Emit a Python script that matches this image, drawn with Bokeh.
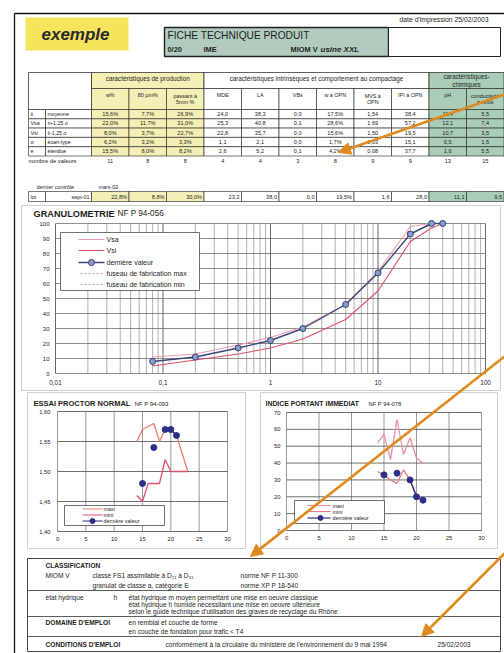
import math
from bokeh.plotting import figure
from bokeh.models import Range1d, LogScale, LinearScale, Arrow, NormalHead
from bokeh.core.properties import value
from bokeh.embed import file_html
from bokeh.resources import INLINE

FONT = "Liberation Sans"
INK = "#1e1e1e"
ORANGE = "#df8a1f"
YELLOW_CELL = "#f4efb6"
GREEN_CELL = "#a9cdb7"
HEAD_FILL = "#b2cbbf"
EXEMPLE_FILL = "#f6e55c"
GRID = "#6e6e6e"
NAN = float("nan")
PAGE_W, PAGE_H = 504, 653

# ---------------- data ----------------
print_date = "25/02/2003"
product = "0/20"
product_code = "IME"
material = "MIOM V"
plant = "XXL"

row_symbols = ["x̄", "Vsa", "Vsi", "σ", "e"]
row_labels = ["moyenne", "x̄+1,25 σ", "x̄-1,25 σ", "écart-type", "étendue"]

col_headers = ["w%", "80 µm%", "passant à\n5mm %", "MDE", "LA", "VBs",
               "w à OPN", "MVS à\nOPN", "IPI à OPN", "pH", "conductivité\nà refus"]
col_decimals = [1, 1, 1, 1, 1, 1, 1, 2, 1, 1, 1]
col_percent = [True, True, True, False, False, False, True, False, False, False, False]

w_pct = [15.6, 22.0, 8.0, 6.2, 15.5]
fines_80um = [7.7, 11.7, 3.7, 3.2, 8.0]
passing_5mm = [26.9, 31.0, 22.7, 3.3, 8.2]
mde = [24.0, 25.3, 22.8, 1.1, 2.6]
la = [38.3, 40.8, 35.7, 2.1, 5.2]
vbs = [0.0, 0.1, 0.0, 0.0, 0.1]
w_opn = [17.5, 28.6, 15.6, 1.7, 4.2]
mvs_opn = [1.54, 1.69, 1.50, 0.03, 0.08]
ipi_opn = [38.4, 57.2, 19.5, 15.1, 37.7]
ph = [11.4, 12.1, 10.7, 0.5, 1.6]
conductivity = [5.5, 7.4, 3.5, 1.5, 5.5]
table_columns = [w_pct, fines_80um, passing_5mm, mde, la, vbs, w_opn, mvs_opn,
                 ipi_opn, ph, conductivity]
count_values = [11, 8, 8, 4, 4, 3, 8, 9, 9, 13, 15]

last_check = "mars-02"
last_lot_date = "sept-01"
last_lot = [22.8, 8.8, 30.0, 23.2, 38.0, 0.0, 19.5, 1.6, 28.0, 11.1, 9.5]

# grading curve (sieve opening in mm, % passing)
sieve_mm = [0.08, 0.2, 0.5, 1, 2, 5, 10, 20, 31.5, 40]
passing_vsa = [11, 13, 19, 24, 31, 46, 68, 98, 100, 100]
passing_vsi = [5, 9, 13, 17, 23, 36, 55, 88, 97, 100]
passing_last = [8, 11, 17, 22, 30, 46, 67, 93, 100, 100]

# Proctor normal (water content %, dry density)
proctor_max_w = [14, 15, 17, 18, 19, 20, 21, 23]
proctor_max_d = [1.55, 1.57, 1.58, 1.55, 1.57, 1.57, 1.56, 1.50]
proctor_min_w = [14, 15, 16, 18, 19, 20, 23]
proctor_min_d = [1.46, 1.45, 1.48, 1.48, 1.52, 1.50, 1.50]
proctor_last_w = [15, 16, 17, 18, 19, 20, 21]
proctor_last_d = [1.48, NAN, 1.54, NAN, 1.57, 1.57, 1.56]

# immediate bearing index (water content %, IPI)
ipi_w = [14, 15, 16, 17, 18, 19, 20, 21]
ipi_max = [52, 57, 42, 66, 45, 55, 43, 40]
ipi_min = [35, 33, 30, 28, 36, 30, 21, 18]
ipi_last_w = [15, 16, 17, 18, 19, 20, 21]
ipi_last = [33, NAN, 34, NAN, 30, 20, 18]

grading_x_ticks = [0.01, 0.1, 1, 10, 100]
grading_x_labels = ["0,01", "0,1", "1", "10", "100"]
grading_y_ticks = list(range(0, 101, 10))
water_ticks = [0, 5, 10, 15, 20, 25, 30]
density_ticks = [1.40, 1.45, 1.50, 1.55, 1.60]
ipi_ticks = [0, 10, 20, 30, 40, 50, 60, 70]

# ---------------- page canvas (pixel units, y downwards) ----------------
p = figure(width=PAGE_W, height=PAGE_H, x_range=Range1d(0, PAGE_W),
           y_range=Range1d(PAGE_H, 0), x_axis_location=None, y_axis_location=None,
           toolbar_location=None, output_backend="svg", min_border=0,
           outline_line_color=None)
p.grid.visible = False
p.background_fill_color = "white"
p.border_fill_color = "white"


def x_lin(v0, px0, v1, px1):
    """Range so that value v0 lands on page column px0 and v1 on px1."""
    k = (v1 - v0) / (px1 - px0)
    return Range1d(v0 - px0 * k, v0 + (PAGE_W - px0) * k)


def x_log(v0, px0, v1, px1):
    l0, l1 = math.log10(v0), math.log10(v1)
    k = (l1 - l0) / (px1 - px0)
    return Range1d(10 ** (l0 - px0 * k), 10 ** (l0 + (PAGE_W - px0) * k))


def y_lin(v0, py0, v1, py1):
    """Range so that value v0 lands on page row py0 and v1 on py1 (rows counted downwards)."""
    k = (v1 - v0) / (py1 - py0)
    return Range1d(v0 + (PAGE_H - py0) * k, v0 - py0 * k)


# chart areas on the page
p.extra_x_ranges = {
    "grain": x_log(0.01, 55, 100, 485),
    "proctor": x_lin(0, 57, 30, 227),
    "ipi": x_lin(0, 286, 30, 481),
}
p.extra_x_scales = {"grain": LogScale(), "proctor": LinearScale(), "ipi": LinearScale()}
p.extra_y_ranges = {
    "grain": y_lin(0, 373, 100, 223),
    "proctor": y_lin(1.40, 531, 1.60, 411),
    "ipi": y_lin(0, 530, 70, 412),
}
GR = dict(x_range_name="grain", y_range_name="grain")
PR = dict(x_range_name="proctor", y_range_name="proctor")
IP = dict(x_range_name="ipi", y_range_name="ipi")


def put_text(xs, ys, texts, size, align="left", baseline="middle", style="normal",
             color=INK, **kw):
    p.text(x=xs, y=ys, text=texts, text_font=value(FONT), text_font_size=f"{size}px",
           text_align=align, text_baseline=baseline, text_font_style=style,
           text_color=color, **kw)


def fmt(v, d, pct=False):
    s = f"{v:.{d}f}".replace(".", ",")
    return s + ("%" if pct else "")


# page frame
p.segment(x0=[14, 14], y0=[13, 13], x1=[504, 14], y1=[13, 653], line_color="#111111",
          line_width=1.3)

# ---------------- header ----------------
put_text([488], [19], [f"date d'impression {print_date}"], 6.8, align="right")
p.quad(left=[25], right=[128], top=[17], bottom=[50], fill_color=EXEMPLE_FILL, line_color=None)
put_text([41], [34], ["exemple"], 17, style="bold italic", color="#2a2a2a")

p.quad(left=[164], right=[388], top=[27], bottom=[56], fill_color=HEAD_FILL,
       line_color="#222222", line_width=1.4)
p.quad(left=[388], right=[500], top=[27], bottom=[56], fill_color="white",
       line_color="#222222", line_width=1.0)
put_text([167], [35], ["FICHE TECHNIQUE PRODUIT"], 10.2)
put_text([167, 203, 290], [49, 49, 49], [product, product_code, material], 7.4, style="bold")
put_text([320], [49], [f"usine {plant}"], 8, style="bold italic")

# ---------------- data table ----------------
ncol = len(col_headers)
xe = [91 + 37.5 * i for i in range(ncol + 1)]
T0, T1, T2 = 72, 88, 109
RH = 9.3
rows_y = [T2 + RH * i for i in range(len(row_symbols) + 1)]
group_fill = [YELLOW_CELL] * 3 + ["white"] * 6 + [GREEN_CELL] * 2

p.quad(left=[28], right=[91], top=[T0], bottom=[T2], fill_color="white",
       line_color=INK, line_width=0.7)
groups = [("caractéristiques de production", 0, 3, YELLOW_CELL),
          ("caractéristiques intrinsèques et comportement au compactage", 3, 9, "white"),
          ("caractéristiques-\nchimiques", 9, 11, GREEN_CELL)]
for label, a, b, fill in groups:
    p.quad(left=[xe[a]], right=[xe[b]], top=[T0], bottom=[T1], fill_color=fill,
           line_color=INK, line_width=0.7)
    put_text([(xe[a] + xe[b]) / 2], [(T0 + T1) / 2 if "\n" in label else T0 + 5.5],
             [label], 6.3, align="center", text_line_height=1.05)

cl, cr, ct, cb, cf = [], [], [], [], []
for j in range(ncol):
    cl.append(xe[j]); cr.append(xe[j + 1]); ct.append(T1); cb.append(T2); cf.append(group_fill[j])
    for i in range(len(row_symbols)):
        cl.append(xe[j]); cr.append(xe[j + 1]); ct.append(rows_y[i]); cb.append(rows_y[i + 1])
        cf.append(group_fill[j])
for i in range(len(row_symbols)):
    for (a, b) in [(28, 45), (45, 91)]:
        cl.append(a); cr.append(b); ct.append(rows_y[i]); cb.append(rows_y[i + 1]); cf.append("white")
p.quad(left=cl, right=cr, top=ct, bottom=cb, fill_color=cf, line_color=INK, line_width=0.6)

put_text([(xe[j] + xe[j + 1]) / 2 for j in range(ncol)],
         [(T1 + T2) / 2 if "\n" in h else T1 + 6 for h in col_headers], col_headers, 5.4,
         align="center", text_line_height=1.1)

vx, vy, vt = [], [], []
for j, col in enumerate(table_columns):
    for i, v in enumerate(col):
        vx.append((xe[j] + xe[j + 1]) / 2)
        vy.append((rows_y[i] + rows_y[i + 1]) / 2)
        vt.append(fmt(v, col_decimals[j], col_percent[j]))
put_text(vx, vy, vt, 5.6, align="center")

ry = [(rows_y[i] + rows_y[i + 1]) / 2 for i in range(len(row_symbols))]
put_text([30] * 5, ry, row_symbols, 5.4)
put_text([47] * 5, ry, row_labels, 5.2)

put_text([28], [rows_y[-1] + 5], ["nombre de valeurs"], 5.8)
put_text([(xe[j] + xe[j + 1]) / 2 for j in range(ncol)], [rows_y[-1] + 5] * ncol,
         [str(n) for n in count_values], 5.6, align="center")

put_text([36, 98], [186, 186], ["dernier contrôle", last_check], 5.4)
L0, L1 = 191, 201
p.quad(left=[28, 45] + xe[:-1], right=[45, 91] + xe[1:], top=[L0] * (ncol + 2),
       bottom=[L1] * (ncol + 2), fill_color=["white", "white"] + group_fill,
       line_color=INK, line_width=0.6)
put_text([30], [(L0 + L1) / 2], ["lot"], 5.4)
put_text([89], [(L0 + L1) / 2], [last_lot_date], 5.4, align="right")
put_text([x - 2 for x in xe[1:]], [(L0 + L1) / 2] * ncol,
         [fmt(v, col_decimals[j] if j != 7 else 1, col_percent[j])
          for j, v in enumerate(last_lot)], 5.6, align="right")

# ---------------- grading curve ----------------
p.quad(left=[21], right=[500], top=[205], bottom=[390], fill_color=None,
       line_color="#c4c4c4", line_width=0.8)
put_text([33], [213], ["GRANULOMETRIE"], 9.2, style="bold")
put_text([117], [213], ["NF P 94-056"], 8.2)

minor = [m * 10 ** k for k in range(-2, 2) for m in range(2, 10)]
p.segment(x0=minor, y0=[0] * len(minor), x1=minor, y1=[100] * len(minor),
          line_color="#7e7e7e", line_width=0.6, **GR)
p.segment(x0=grading_x_ticks, y0=[0] * 5, x1=grading_x_ticks, y1=[100] * 5,
          line_color="#444444", line_width=0.8, **GR)
p.segment(x0=[0.01] * len(grading_y_ticks), y0=grading_y_ticks,
          x1=[100] * len(grading_y_ticks), y1=grading_y_ticks,
          line_color="#5e5e5e", line_width=0.7, **GR)
p.line(sieve_mm, passing_vsa, line_color="#f09aae", line_width=1.1, **GR)
p.line(sieve_mm, passing_vsi, line_color="#e0506c", line_width=1.1, **GR)
p.line(sieve_mm, passing_last, line_color="#3b4878", line_width=1.4, **GR)
p.scatter(sieve_mm, passing_last, size=6, fill_color="#8b9bcb", line_color="#32406e",
          line_width=1, **GR)
put_text(grading_x_ticks, [0] * 5, grading_x_labels, 6.4, align="center",
         baseline="top", y_offset=6, **GR)
put_text([0.01] * len(grading_y_ticks), grading_y_ticks,
         [str(t) for t in grading_y_ticks], 6.0, align="right", x_offset=-6, **GR)

# legend of the grading chart
p.quad(left=[60], right=[199], top=[232], bottom=[290], fill_color="white",
       line_color="#333333", line_width=0.7)
leg_y = [239, 250, 262, 273, 284]
p.segment(x0=[78] * 5, y0=leg_y, x1=[104] * 5, y1=leg_y,
          line_color=["#f09aae", "#e0506c", "#3b4878", "#9a9a9a", "#9a9a9a"],
          line_width=[1.1, 1.1, 1.4, 0.8, 0.8])
p.segment(x0=[78, 78], y0=leg_y[3:], x1=[104, 104], y1=leg_y[3:], line_color="white",
          line_width=1.2, line_dash="2 2")
p.scatter([91], [leg_y[2]], size=6, fill_color="#8b9bcb", line_color="#32406e")
put_text([106] * 5, leg_y, ["Vsa", "Vsi", "dernière valeur",
                            "fuseau de fabrication max", "fuseau de fabrication min"], 7)

# ---------------- Proctor ----------------
p.quad(left=[27], right=[245], top=[392], bottom=[548], fill_color=None,
       line_color="#c4c4c4", line_width=0.8)
put_text([33], [403], ["ESSAI PROCTOR NORMAL"], 7.5, style="bold")
put_text([134], [403], ["NF P 94-093"], 6.0)
p.segment(x0=water_ticks, y0=[1.40] * 7, x1=water_ticks, y1=[1.60] * 7,
          line_color=GRID, line_width=0.7, **PR)
p.segment(x0=[0] * 5, y0=density_ticks, x1=[30] * 5, y1=density_ticks,
          line_color="#4a4a4a", line_width=0.8, **PR)
p.line(proctor_max_w, proctor_max_d, line_color="#ef7d6c", line_width=1.3, **PR)
p.line(proctor_min_w, proctor_min_d, line_color="#e5506e", line_width=1.3, **PR)
p.line(proctor_last_w, proctor_last_d, line_color="#2b2f86", line_width=1.2, **PR)
p.scatter(proctor_last_w, proctor_last_d, size=6, fill_color="#2b2f86",
          line_color="#2b2f86", **PR)
put_text(water_ticks, [1.40] * 7, [str(t) for t in water_ticks], 5.8,
         align="center", baseline="top", y_offset=5, **PR)
put_text([0] * 5, density_ticks, [fmt(t, 2) for t in density_ticks], 5.8,
         align="right", x_offset=-7, **PR)

p.quad(left=[64], right=[164], top=[505], bottom=[525], fill_color="white",
       line_color="#333333", line_width=0.7)
pl_y = [508.5, 514.5, 520.5]
p.segment(x0=[82] * 3, y0=pl_y, x1=[102] * 3, y1=pl_y,
          line_color=["#ef7d6c", "#e5506e", "#2b2f86"], line_width=1.2)
p.scatter([92], [pl_y[2]], size=5, fill_color="#2b2f86", line_color="#2b2f86")
put_text([103] * 3, pl_y, ["maxi", "mini", "dernière valeur"], 5.4)

# ---------------- IPI ----------------
p.quad(left=[260], right=[497], top=[392], bottom=[548], fill_color=None,
       line_color="#c4c4c4", line_width=0.8)
put_text([265], [403], ["INDICE PORTANT IMMEDIAT"], 6.9, style="bold")
put_text([368], [403], ["NF P 94-078"], 5.8)
p.segment(x0=water_ticks, y0=[0] * 7, x1=water_ticks, y1=[70] * 7,
          line_color=GRID, line_width=0.7, **IP)
p.segment(x0=[0] * 8, y0=ipi_ticks, x1=[30] * 8, y1=ipi_ticks,
          line_color="#4a4a4a", line_width=0.8, **IP)
p.line(ipi_w, ipi_max, line_color="#ec8fa5", line_width=1.3, **IP)
p.line(ipi_w, ipi_min, line_color="#e27a90", line_width=1.3, **IP)
p.line(ipi_last_w, ipi_last, line_color="#2b2f86", line_width=1.3, **IP)
p.scatter(ipi_last_w, ipi_last, size=6, fill_color="#2b2f86", line_color="#2b2f86", **IP)
put_text(water_ticks, [0] * 7, [str(t) for t in water_ticks], 5.8,
         align="center", baseline="top", y_offset=5, **IP)
put_text([0] * 8, ipi_ticks, [str(t) for t in ipi_ticks], 5.8, align="right",
         x_offset=-6, **IP)

p.quad(left=[294], right=[384], top=[500], bottom=[523], fill_color="white",
       line_color="#333333", line_width=0.7)
il_y = [505, 511, 517.5]
p.segment(x0=[307] * 3, y0=il_y, x1=[330] * 3, y1=il_y,
          line_color=["#ec8fa5", "#e27a90", "#2b2f86"], line_width=1.2)
p.scatter([320], [il_y[2]], size=5, fill_color="#2b2f86", line_color="#2b2f86")
put_text([332] * 3, il_y, ["maxi", "mini", "dernière valeur"], 5.4)

# ---------------- classification block ----------------
BT = 6.6
p.quad(left=[27], right=[500], top=[558], bottom=[651], fill_color="white",
       line_color="#333333", line_width=0.9)
p.segment(x0=[27] * 3, y0=[590, 616, 636], x1=[500] * 3, y1=[590, 616, 636],
          line_color="#333333", line_width=0.8)
put_text([45, 45, 45], [565, 622, 644],
         ["CLASSIFICATION", "DOMAINE D'EMPLOI", "CONDITIONS D'EMPLOI"], BT, style="bold")
put_text([45, 92, 240, 92, 240], [575, 575, 575, 585, 585],
         [material, "classé FS1 assimilable à D₂₁ à D₃₁", "norme NF P 11-300",
          "granulat de classe a, catégorie E", "norme XP P 18-540"], BT)
put_text([45, 113], [597, 597], ["état hydrique", "h"], BT)
put_text([128] * 3, [597, 604, 611],
         ["état hydrique m moyen permettant une mise en oeuvre classique",
          "état hydrique h humide nécessitant une mise en oeuvre ultérieure",
          "selon le guide technique d'utilisation des graves de recyclage du Rhône"], BT)
put_text([128, 128], [622, 631],
         ["en remblai et couche de forme", "en couche de fondation pour trafic < T4"], BT)
put_text([165, 437], [644, 644],
         ["conformément à la circulaire du ministère de l'environnement du 9 mai 1994",
          print_date], BT)

# ---------------- callout arrows ----------------
for xs, ys, xe_, ye_ in [(504, 94, 338, 152), (504, 356, 250, 556), (504, 553, 421, 636)]:
    p.add_layout(Arrow(end=NormalHead(size=12, fill_color=ORANGE, line_color=ORANGE),
                       x_start=xs, y_start=ys, x_end=xe_, y_end=ye_,
                       line_color=ORANGE, line_width=2.6))

open("out.html", "w").write(file_html(p, INLINE))
